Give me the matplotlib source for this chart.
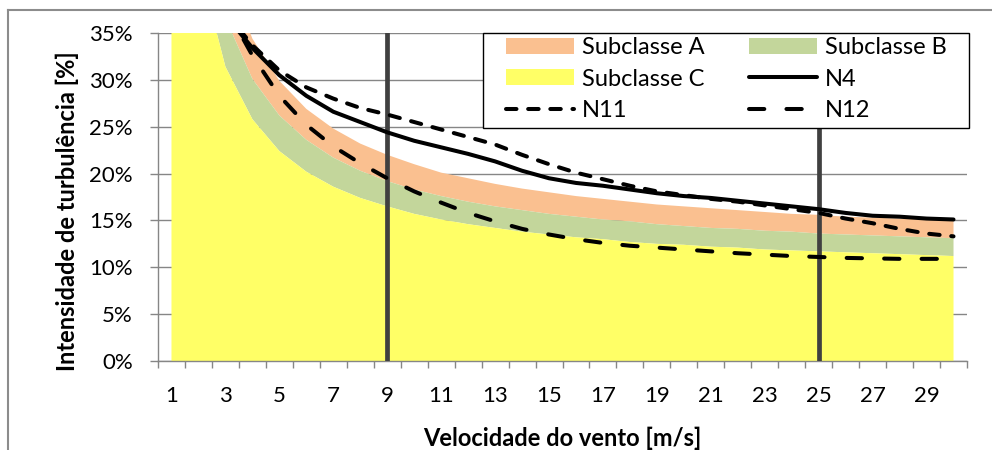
import matplotlib
matplotlib.use("Agg")
import matplotlib.pyplot as plt
import numpy as np
from matplotlib.lines import Line2D
from matplotlib.patches import Patch, Rectangle
from matplotlib.ticker import PercentFormatter

plt.rcParams["font.family"] = ["Lato", "DejaVu Sans"]

# wind speed categories [m/s]
speeds = list(range(1, 31))

# turbulence subclasses (upper edge of each band)
sub_a = [1.016, 0.568, 0.419, 0.344, 0.299, 0.269, 0.248, 0.232, 0.220, 0.210,
         0.201, 0.195, 0.189, 0.184, 0.180, 0.176, 0.173, 0.170, 0.167, 0.165,
         0.163, 0.161, 0.159, 0.157, 0.156, 0.154, 0.153, 0.152, 0.151, 0.150]
sub_b = [0.889, 0.497, 0.366, 0.301, 0.262, 0.236, 0.217, 0.203, 0.192, 0.183,
         0.176, 0.170, 0.165, 0.161, 0.157, 0.154, 0.151, 0.149, 0.146, 0.144,
         0.142, 0.141, 0.139, 0.138, 0.136, 0.135, 0.134, 0.133, 0.132, 0.131]
sub_c = [0.762, 0.426, 0.314, 0.258, 0.224, 0.202, 0.186, 0.174, 0.165, 0.157,
         0.151, 0.146, 0.142, 0.138, 0.135, 0.132, 0.130, 0.127, 0.125, 0.124,
         0.122, 0.121, 0.119, 0.118, 0.117, 0.116, 0.115, 0.114, 0.113, 0.112]

# measured points, from 3 m/s
line_speeds = speeds[2:]
n4 = [0.369, 0.334, 0.305, 0.283, 0.266, 0.255, 0.244, 0.235, 0.228, 0.221,
      0.213, 0.203, 0.195, 0.190, 0.187, 0.183, 0.179, 0.176, 0.174, 0.171,
      0.168, 0.165, 0.162, 0.158, 0.155, 0.154, 0.152, 0.151]
n11 = [0.372, 0.337, 0.310, 0.292, 0.280, 0.270, 0.263, 0.255, 0.247, 0.239,
       0.231, 0.220, 0.210, 0.201, 0.194, 0.187, 0.181, 0.177, 0.173, 0.170,
       0.166, 0.162, 0.158, 0.152, 0.147, 0.141, 0.136, 0.133]
n12 = [0.378, 0.326, 0.283, 0.252, 0.229, 0.211, 0.195, 0.181, 0.169, 0.158,
       0.149, 0.141, 0.135, 0.130, 0.126, 0.123, 0.121, 0.119, 0.117, 0.115,
       0.1135, 0.112, 0.111, 0.110, 0.1095, 0.109, 0.109, 0.109]

# operating limits
limits = [9, 25]

col_a = "#FAC090"
col_b = "#C3D69B"
col_c = "#FFFF66"
grey = "#868686"

fig = plt.figure(figsize=(9.92, 4.5), dpi=100)
ax = fig.add_axes([158 / 992, 1 - 361 / 450, 809 / 992, 328 / 450])

# outer chart frame
fig.add_artist(Line2D([8 / 992, 8 / 992], [0, 1 - 10 / 450], transform=fig.transFigure,
                      color="#8C8C8C", lw=1.5))
fig.add_artist(Line2D([8 / 992, 1], [1 - 10 / 450, 1 - 10 / 450], transform=fig.transFigure,
                      color="#8C8C8C", lw=1.5))

ax.fill_between(speeds, sub_b, sub_a, color=col_a, lw=0, zorder=2)
ax.fill_between(speeds, sub_c, sub_b, color=col_b, lw=0, zorder=2)
ax.fill_between(speeds, 0, sub_c, color=col_c, lw=0, zorder=2)

for v in limits:
    ax.axvline(v, color="#404040", lw=3.4, zorder=3)

lw = 2.9
ax.plot(line_speeds, n4, color="black", lw=lw, solid_capstyle="round", zorder=4)
ax.plot(line_speeds, n11, color="black", lw=lw, dashes=(2.6, 2.9),
        dash_capstyle="round", zorder=4)
ax.plot(line_speeds, n12, color="black", lw=lw, dashes=(3.8, 5.5),
        dash_capstyle="round", zorder=4)

ax.set_xlim(0.5, 30.5)
ax.set_ylim(0, 0.35)
ax.set_yticks(np.arange(0, 0.351, 0.05))
ax.yaxis.set_major_formatter(PercentFormatter(1.0, decimals=0))
ax.yaxis.grid(True, color=grey, lw=1)
ax.set_axisbelow(True)

ax.set_xticks(speeds[::2])
ax.set_xticks(np.arange(0.5, 31, 1), minor=True)
ax.tick_params(axis="x", which="major", length=0, pad=18, labelsize=16)
ax.tick_params(axis="x", which="minor", length=5, width=1, color=grey)
ax.tick_params(axis="y", length=5.5, width=1, color=grey, pad=12.5, labelsize=16)

for s in ["top", "right"]:
    ax.spines[s].set_visible(False)
for s in ["left", "bottom"]:
    ax.spines[s].set_color(grey)
    ax.spines[s].set_linewidth(1)

ax.set_xlabel("Velocidade do vento [m/s]", fontsize=17, fontweight="bold", labelpad=15)
ax.set_ylabel("Intensidade de turbulência [%]", fontsize=17, fontweight="bold")
ax.yaxis.set_label_coords(-0.098, 0.457)

# legend box drawn by hand, entries placed inside it
ax.add_patch(Rectangle((0.4017, 0.7104), 0.6007, 0.2896, transform=ax.transAxes,
                       facecolor="white", edgecolor="black", lw=1, clip_on=False, zorder=5))

handles = [
    Patch(facecolor=col_a, edgecolor="none"),
    Patch(facecolor=col_c, edgecolor="none"),
    Line2D([], [], color="black", lw=lw, dashes=(2.6, 2.9), dash_capstyle="round"),
    Patch(facecolor=col_b, edgecolor="none"),
    Line2D([], [], color="black", lw=lw, solid_capstyle="round"),
    Line2D([], [], color="black", lw=lw, dashes=(3.8, 5.5), dash_capstyle="round"),
]
labels = ["Subclasse A", "Subclasse C", "N11", "Subclasse B", "N4", "N12"]
leg = ax.legend(handles, labels, ncol=2, loc="upper left",
                bbox_to_anchor=((506 - 158) / 809, (361 - 37) / 328),
                borderaxespad=0, borderpad=0, frameon=False, fontsize=17,
                handlelength=2.88, handleheight=0.68, handletextpad=0.34,
                labelspacing=0.45, columnspacing=1.86)
leg.set_zorder(6)

fig.savefig("out.png", dpi=100)
